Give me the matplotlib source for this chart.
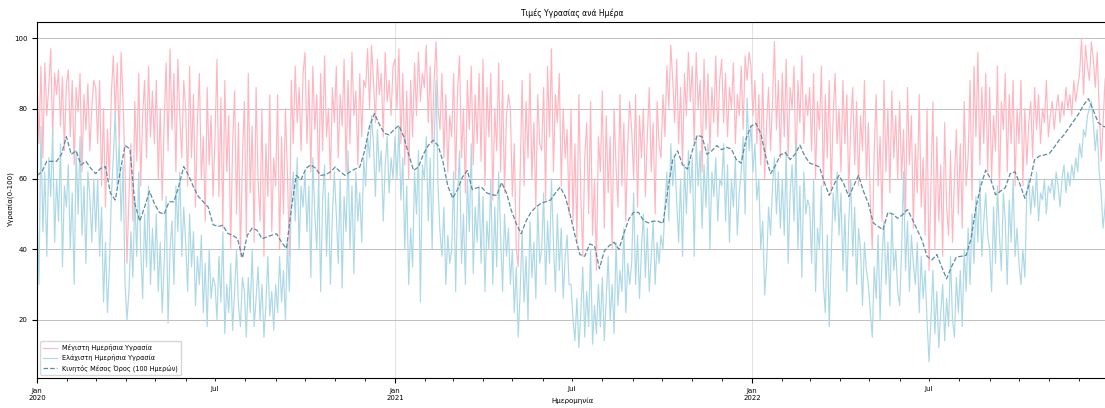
import matplotlib.pyplot as plt
import matplotlib.dates as mdates
from matplotlib.ticker import FuncFormatter
import pandas as pd

plt.rcParams["font.family"] = ["DejaVu Sans"]

# daily max humidity, sampled every second day
max_2020 = [
    88, 70, 92, 66, 93, 78, 86, 97, 72, 90, 84, 91, 75, 89, 68, 87,
    91, 72, 88, 64, 86, 79, 90, 62, 84, 74, 87, 68, 80, 88,
    86, 70, 88, 58, 80, 52, 74, 60, 84, 95, 78, 93, 70, 96, 82,
    62, 36, 55, 70, 48, 82, 65, 90, 58, 78, 88, 66, 92, 72, 85,
    70, 88, 60, 80, 54, 76, 93, 68, 97, 74, 90, 62, 94, 78, 66, 88,
    80, 58, 92, 66, 84, 52, 76, 90, 60, 72, 48, 86, 64, 78, 55,
    72, 94, 55, 83, 46, 88, 62, 78, 40, 70, 85, 50, 76, 38, 66,
    82, 44, 90, 56, 75, 42, 86, 60, 48, 80, 38, 70, 55, 84, 45, 66,
    58, 84, 40, 72, 50, 80, 62, 38, 88, 70, 92, 76, 86, 68, 90,
    96, 70, 88, 62, 92, 74, 84, 58, 90, 68, 95, 72, 80, 60, 86, 76,
    92, 66, 84, 75, 94, 62, 88, 70, 96, 78, 85, 64, 90, 72, 88,
    86, 97, 80, 98, 88, 76, 94, 84, 90, 72, 96, 82, 88, 78, 92,
]
max_2021 = [
    94, 80, 97, 70, 90, 64, 85, 60, 88, 72, 93, 78, 96, 82, 90,
    86, 98, 76, 92, 70, 88, 99, 80, 74, 90, 66, 84, 62, 78,
    72, 90, 60, 85, 95, 66, 80, 56, 88, 74, 92, 64, 84, 70, 90,
    65, 94, 58, 86, 72, 90, 54, 80, 68, 93, 62, 88, 56, 78, 84,
    80, 55, 70, 40, 35, 62, 88, 58, 82, 66, 90, 60, 76, 52, 84, 70,
    68, 86, 54, 92, 72, 97, 62, 84, 76, 90, 58, 80, 66, 74, 50,
    80, 48, 70, 42, 84, 55, 38, 66, 76, 50, 82, 44, 60, 34, 72,
    62, 85, 46, 78, 56, 72, 40, 80, 64, 52, 84, 58, 76, 48, 70, 82,
    74, 60, 84, 52, 78, 66, 80, 55, 72, 86, 62, 76, 50, 82, 70,
    66, 84, 72, 92, 80, 98, 88, 76, 94, 70, 86, 64, 90, 78, 96, 82,
    92, 70, 96, 80, 88, 62, 94, 74, 90, 68, 86, 76, 95, 72, 88,
    94, 76, 90, 72, 86, 80, 93, 70, 84, 78, 92, 74, 95, 88, 96,
]
max_2022 = [
    92, 78, 88, 70, 84, 64, 90, 60, 76, 86, 68, 82, 99, 74, 88, 66,
    90, 72, 94, 66, 86, 80, 92, 62, 88, 76, 95, 70, 84, 78,
    86, 68, 90, 60, 82, 74, 92, 58, 84, 66, 88, 56, 78, 90, 70,
    80, 62, 88, 70, 84, 56, 76, 86, 64, 82, 58, 78, 68, 88, 60,
    76, 54, 40, 68, 84, 58, 72, 48, 88, 62, 80, 56, 85, 66, 78, 60,
    82, 60, 74, 50, 86, 64, 78, 46, 70, 56, 84, 52, 66, 44, 80,
    34, 58, 82, 40, 72, 48, 64, 38, 76, 52, 44, 68, 42, 60, 74,
    50, 70, 46, 82, 58, 66, 88, 54, 92, 72, 96, 64, 86, 70, 90, 62,
    86, 60, 78, 68, 92, 56, 82, 74, 90, 62, 84, 70, 88, 58, 80,
    70, 88, 58, 80, 64, 76, 82, 66, 86, 74, 84, 70, 80, 76, 88, 72,
    78, 82, 74, 80, 84, 76, 82, 78, 86, 80, 84, 78, 88, 82, 86,
    90, 100, 84, 98, 92, 88, 99, 94, 86, 96, 80, 65, 76, 88, 92,
]

# daily min humidity, same days
min_2020 = [
    50, 30, 75, 45, 62, 38, 66, 55, 74, 42, 60, 48, 70, 35, 58, 52,
    64, 40, 56, 30, 68, 50, 72, 44, 58, 36, 62, 55, 42, 60,
    45, 60, 38, 52, 25, 42, 22, 35, 55, 66, 79, 58, 70, 48, 64,
    30, 20, 28, 45, 32, 55, 38, 62, 40, 26, 50, 35, 58, 30, 46,
    34, 50, 28, 42, 22, 36, 55, 19, 40, 48, 30, 58, 45, 62, 38, 52,
    42, 28, 50, 35, 45, 24, 38, 30, 44, 22, 36, 18, 40, 26, 32,
    30, 20, 38, 25, 45, 16, 30, 22, 36, 17, 28, 40, 24, 18, 32,
    28, 15, 32, 22, 40, 18, 26, 35, 20, 30, 15, 24, 38, 21, 28, 17,
    30, 22, 38, 25, 34, 20, 42, 28, 55, 62, 48, 66, 40, 58, 52,
    62, 45, 58, 32, 66, 50, 40, 60, 28, 54, 64, 38, 56, 30, 50, 62,
    50, 36, 60, 29, 55, 45, 68, 40, 58, 33, 62, 48, 56, 42, 66,
    58, 72, 66, 78, 70, 55, 74, 62, 68, 48, 64, 72, 56, 66, 60,
]
min_2021 = [
    72, 60, 75, 54, 66, 40, 58, 30, 46, 35, 62, 50, 68, 25, 64,
    60, 72, 48, 66, 40, 70, 88, 58, 45, 38, 52, 30, 44, 36,
    40, 62, 28, 55, 68, 36, 50, 30, 60, 45, 70, 33, 52, 42, 58,
    36, 55, 28, 48, 40, 60, 30, 52, 35, 62, 44, 28, 50, 38, 46,
    30, 40, 22, 35, 15, 28, 45, 25, 38, 20, 48, 32, 42, 26, 52, 36,
    40, 56, 30, 48, 36, 60, 42, 28, 50, 34, 46, 26, 38, 44, 30,
    30, 20, 14, 26, 12, 22, 35, 15, 28, 18, 40, 13, 24, 16, 30,
    18, 32, 14, 26, 38, 20, 30, 16, 42, 24, 34, 28, 46, 22, 36, 30,
    36, 56, 30, 44, 26, 40, 50, 32, 46, 28, 38, 48, 30, 42, 36,
    44, 40, 52, 62, 48, 70, 58, 66, 54, 42, 60, 38, 64, 50, 68, 56,
    66, 38, 72, 58, 68, 46, 64, 52, 70, 40, 62, 55, 66, 48, 60,
    58, 70, 48, 64, 42, 60, 52, 66, 44, 56, 62, 72, 50, 83, 68,
]
min_2022 = [
    75, 62, 70, 54, 60, 40, 48, 27, 36, 52, 44, 58, 66, 50, 62, 46,
    60, 44, 68, 36, 56, 64, 48, 70, 40, 58, 32, 62, 50, 54,
    52, 36, 60, 28, 46, 40, 58, 30, 22, 44, 18, 38, 56, 48, 62,
    44, 56, 34, 50, 28, 48, 60, 38, 52, 30, 46, 40, 24, 42, 34,
    30, 22, 15, 35, 26, 44, 20, 38, 48, 30, 42, 24, 50, 34, 40, 28,
    24, 40, 62, 34, 48, 28, 44, 36, 30, 42, 22, 38, 26, 34, 20,
    8, 20, 34, 16, 28, 12, 22, 30, 14, 26, 18, 38, 20, 15, 32,
    22, 34, 18, 40, 28, 46, 30, 50, 36, 55, 42, 60, 38, 48, 56, 44,
    40, 28, 52, 36, 58, 44, 34, 56, 48, 30, 54, 42, 60, 38, 46,
    36, 30, 40, 32, 56, 60, 50, 58, 52, 62, 48, 56, 54, 60, 50, 58,
    56, 60, 54, 62, 58, 52, 60, 64, 56, 62, 58, 64, 60, 66, 62,
    70, 66, 74, 72, 78, 80, 82, 76, 68, 74, 62, 56, 46, 52, 63,
]

# moving average, every fifth day
rolling_avg = [
    61, 62, 65, 65, 65, 67, 72, 67, 68, 64, 65, 63, 61.5, 63, 63.5, 56,
    54, 62, 69.5, 68.5, 53, 48, 52, 56.5, 53, 50.5, 50, 53.5, 53.5, 58,
    63.5, 61, 57.7, 55, 53.5, 52, 47, 46.5, 46.8, 44.5, 44, 43, 37.5, 44,
    46, 45.4, 43, 43.5, 44, 44.4, 42, 40.2, 51.5, 61, 59.8, 63, 64, 63,
    61, 61.2, 62, 63.4, 62, 61, 62, 62.8, 63.4, 68, 75, 78.6, 75.5, 73,
    72.5, 74, 75.2, 72, 67, 62.4, 63.4, 67, 69.5, 71, 69.5, 65, 58, 54.5,
    57, 60.5, 62.4, 57, 57.5, 57.5, 56, 55.5, 55.3, 59, 56, 51, 47.3, 44.4,
    48, 50.5, 52, 53, 53.5, 54, 56, 57.7, 55, 50, 44, 38.5, 38, 41.5,
    41, 34.5, 39.5, 41, 42, 40, 44.5, 48.5, 50.5, 50.5, 48.2, 47.5, 48, 48,
    47.3, 57, 65.5, 68, 64, 62.8, 68, 72.4, 72, 67, 68, 69.5, 68.3, 69,
    68.5, 65.5, 64.5, 71.5, 75, 75.8, 72.9, 66.5, 61.5, 63.8, 66.8, 67.5, 65.5, 67,
    69.6, 66.5, 64.5, 64, 63.4, 59, 55.3, 58.5, 61, 58.5, 55, 58, 61, 56.5,
    53, 47.5, 46.5, 45.5, 50.5, 50, 48.8, 49.8, 51.3, 48.5, 45.5, 42.5, 38, 37,
    38.5, 35, 31.6, 35, 37.8, 38, 38.3, 43, 52, 58, 62.5, 60, 55.5, 56.5,
    57.5, 61.5, 62, 58.5, 54.5, 59, 65.5, 66.5, 66.8, 67.2, 69, 71, 72.5, 74.5,
    76.5, 78.5, 81, 82.8, 79.5, 76, 75, 74.5,
]

max_humidity = max_2020 + max_2021 + max_2022
min_humidity = min_2020 + min_2021 + min_2022

max_days = pd.date_range("2020-01-01", "2022-12-30", periods=len(max_humidity))
min_days = pd.date_range("2020-01-01", "2022-12-30", periods=len(min_humidity))
avg_days = pd.date_range("2020-01-01", "2022-12-31", periods=len(rolling_avg))

fig = plt.figure(figsize=(11.05, 4.08), dpi=100)
ax = fig.add_axes([0.0335, 0.0735, 0.9692, 0.8725])

ax.plot(max_days, max_humidity, color="lightpink", lw=0.85,
        label="Μέγιστη Ημερήσια Υγρασία")
ax.plot(min_days, min_humidity, color="lightblue", lw=0.85,
        label="Ελάχιστη Ημερήσια Υγρασία")
ax.plot(avg_days, rolling_avg, color="#5a8ca3", lw=0.9, linestyle="--",
        label="Κινητός Μέσος Όρος (100 Ημερών)")

ax.set_xlim(pd.Timestamp("2020-01-01"), pd.Timestamp("2022-12-31"))

ax.xaxis.set_major_locator(mdates.YearLocator())
ax.xaxis.set_major_formatter(mdates.DateFormatter("%b\n%Y"))
ax.xaxis.set_minor_locator(mdates.MonthLocator())
ax.xaxis.set_minor_formatter(
    FuncFormatter(lambda x, pos: "Jul" if mdates.num2date(x).month == 7 else ""))
ax.tick_params(which="both", labelsize=5)

ax.grid(axis="y", color="#b0b0b0", lw=0.7, alpha=0.8)
ax.grid(axis="x", which="major", color="#b0b0b0", lw=0.7, alpha=0.35)

ax.set_title("Τιμές Υγρασίας ανά Ημέρα", fontsize=5.5, pad=4)
ax.set_xlabel("Ημερομηνία", fontsize=5)
ax.set_ylabel("Υγρασία(0-100)", fontsize=5)
ax.xaxis.set_label_coords(0.5, -0.056)
ax.yaxis.set_label_coords(-0.0205, 0.5)
ax.legend(loc="lower left", fontsize=4.7, handlelength=2.2)

fig.savefig("out.png", dpi=100)
